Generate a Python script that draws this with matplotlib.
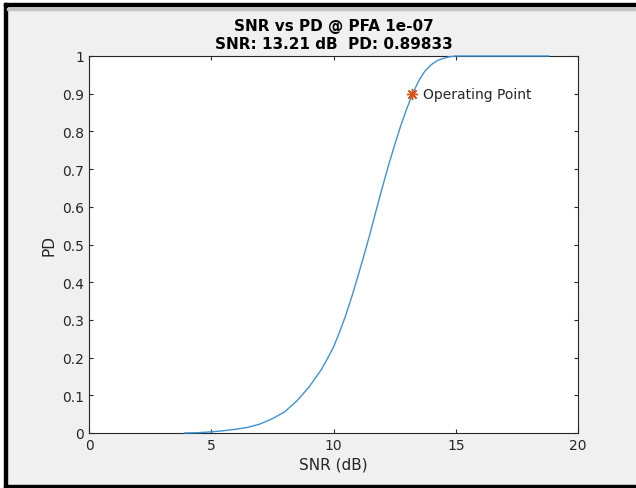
import matplotlib
matplotlib.use('Agg')
from matplotlib import pyplot as plt
from matplotlib.patches import Rectangle

# values
snr_db = [3.9, 4.5, 5.0, 5.5, 6.0, 6.5, 7.0, 7.5, 8.0, 8.5, 9.0, 9.5, 9.75,
          10.0, 10.25, 10.5, 10.75, 11.0, 11.25, 11.5, 11.75, 12.0, 12.25, 12.5,
          12.75, 13.0, 13.25, 13.5, 13.75, 14.0, 14.25, 14.5, 14.75, 15.0,
          16.0, 17.0, 18.0, 18.8]
pd = [0.0, 0.001, 0.003, 0.006, 0.010, 0.015, 0.024, 0.038, 0.056, 0.085, 0.122,
      0.168, 0.197, 0.228, 0.268, 0.312, 0.362, 0.416, 0.472, 0.53, 0.592, 0.652,
      0.71, 0.764, 0.815, 0.861, 0.902, 0.936, 0.961, 0.977, 0.988, 0.994, 0.998,
      1.0, 1.0, 1.0, 1.0, 1.0]
op_snr = 13.21
op_pd = 0.89833
xticks = [0, 5, 10, 15, 20]
yticks = [0, 0.1, 0.2, 0.3, 0.4, 0.5, 0.6, 0.7, 0.8, 0.9, 1]
ytick_labels = ['0', '0.1', '0.2', '0.3', '0.4', '0.5', '0.6', '0.7', '0.8', '0.9', '1']

plt.rcParams['font.family'] = ['DejaVu Sans']

fig = plt.figure(figsize=(6.36, 4.89), dpi=100)
fig.patch.set_facecolor('#f0f0f0')
ax = fig.add_axes([89/636, 1 - 434/489, (578 - 89)/636, (434 - 57)/489])

ax.plot(snr_db, pd, color='#3d93d3', lw=1.0, clip_on=False, zorder=3)
ax.plot(op_snr, op_pd, marker=(8, 2, 0), color='#D95319', ms=8, mew=1.0,
        linestyle='none', zorder=4)
ax.text(op_snr + 0.45, op_pd, 'Operating Point', va='center', ha='left',
        fontsize=10, color='#262626')

ax.set_xlim(0, 20)
ax.set_ylim(0, 1)
ax.set_xticks(xticks)
ax.set_yticks(yticks)
ax.set_yticklabels(ytick_labels)
ax.tick_params(direction='in', top=True, right=True, length=3, width=0.8,
               colors='#262626', labelsize=10, labelcolor='#262626')
for s in ax.spines.values():
    s.set_color('#262626')
    s.set_linewidth(0.8)

ax.set_xlabel('SNR (dB)', fontsize=11, color='#262626', labelpad=3)
ax.set_ylabel('PD', fontsize=11, color='#262626', labelpad=4)
ax.set_title('SNR vs PD @ PFA 1e-07\nSNR: 13.21 dB  PD: 0.89833',
             fontsize=11, fontweight='bold', color='#000000', linespacing=1.2, pad=6)

# screenshot frame
tf = fig.transFigure
fig.add_artist(Rectangle((0, 0), 4/636, 1, transform=tf, color='white'))
fig.add_artist(Rectangle((0, 1 - 4/489), 1, 4/489, transform=tf, color='white'))
fig.add_artist(Rectangle((4/636, 0), 3/636, 1 - 4/489, transform=tf, color='black'))
fig.add_artist(Rectangle((4/636, 1 - 7/489), 1, 3/489, transform=tf, color='black'))
fig.add_artist(Rectangle((7/636, 1 - 10.5/489), 1, 1.5/489, transform=tf, color='#c4c4c4'))
fig.add_artist(Rectangle((4/636, 0), 1, 3.5/489, transform=tf, color='black'))

fig.savefig('out.png', dpi=100, facecolor=fig.get_facecolor())
